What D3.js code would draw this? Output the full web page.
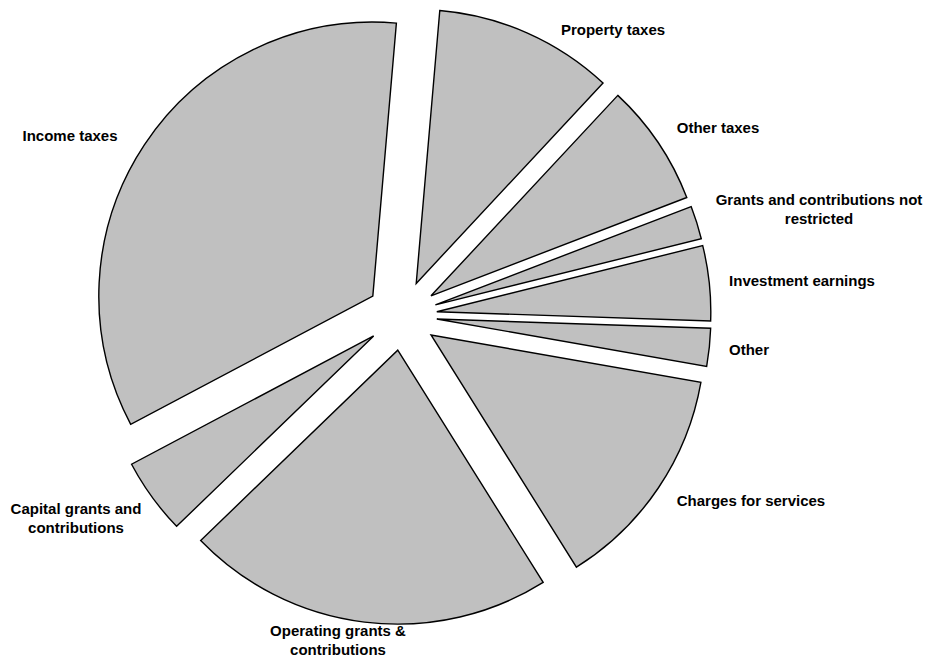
<!DOCTYPE html>
<html>
<head>
<meta charset="utf-8">
<script src="https://cdn.jsdelivr.net/npm/d3@7/dist/d3.min.js"></script>
<style>
  html, body { margin: 0; padding: 0; background: #ffffff; }
  svg { display: block; }
  text { font-family: "Liberation Sans", Arial, Helvetica, sans-serif; font-weight: bold; font-size: 15px; fill: #000; }
</style>
</head>
<body>
<div id="chart"></div>
<script>
// ---- data ----
const categories = [
  "Income taxes",
  "Property taxes",
  "Other taxes",
  "Grants and contributions not restricted",
  "Investment earnings",
  "Other",
  "Charges for services",
  "Operating grants & contributions",
  "Capital grants and contributions"
];
const values = [34.13, 10.57, 7.22, 1.96, 4.42, 2.23, 13.33, 21.68, 4.47];
const labelLines = [
  ["Income taxes"],
  ["Property taxes"],
  ["Other taxes"],
  ["Grants and contributions not", "restricted"],
  ["Investment earnings"],
  ["Other"],
  ["Charges for services"],
  ["Operating grants &", "contributions"],
  ["Capital grants and", "contributions"]
];

// ---- layout ----
const W = 925, H = 671;
const cx = 402, cy = 315.4;
const radius = 274;
const explode = 35;
const startDeg = 242.08;
const labelPos = [
  [70, 141], [613, 35], [718, 133], [819, 205], [802, 286],
  [749, 355], [751, 506], [338, 636], [76, 514]
];
const lineHeight = 19;

const svg = d3.select("#chart").append("svg")
  .attr("width", W).attr("height", H);

const table = categories.map((c, i) => ({ name: c, value: values[i], lines: labelLines[i], pos: labelPos[i] }));

const start = startDeg * Math.PI / 180;
const pie = d3.pie().sort(null).value(d => d.value)
  .startAngle(start).endAngle(start + 2 * Math.PI);
const arc = d3.arc().innerRadius(0).outerRadius(radius);

const arcs = pie(table);

const g = svg.append("g").attr("transform", `translate(${cx},${cy})`);

g.selectAll("path.slice")
  .data(arcs)
  .join("path")
  .attr("class", "slice")
  .attr("d", arc)
  .attr("transform", d => {
    const m = (d.startAngle + d.endAngle) / 2;
    return `translate(${explode * Math.sin(m)},${-explode * Math.cos(m)})`;
  })
  .attr("fill", "#c0c0c0")
  .attr("stroke", "#000")
  .attr("stroke-width", 1.4)
  .attr("stroke-linejoin", "miter");

const lbl = svg.selectAll("text.lbl")
  .data(table)
  .join("text")
  .attr("class", "lbl")
  .attr("text-anchor", "middle")
  .attr("x", d => d.pos[0])
  .attr("y", d => d.pos[1]);

lbl.selectAll("tspan")
  .data(d => d.lines.map((t, j) => ({ t, j, x: d.pos[0] })))
  .join("tspan")
  .attr("x", d => d.x)
  .attr("dy", d => d.j === 0 ? 0 : lineHeight)
  .text(d => d.t);
</script>
</body>
</html>
